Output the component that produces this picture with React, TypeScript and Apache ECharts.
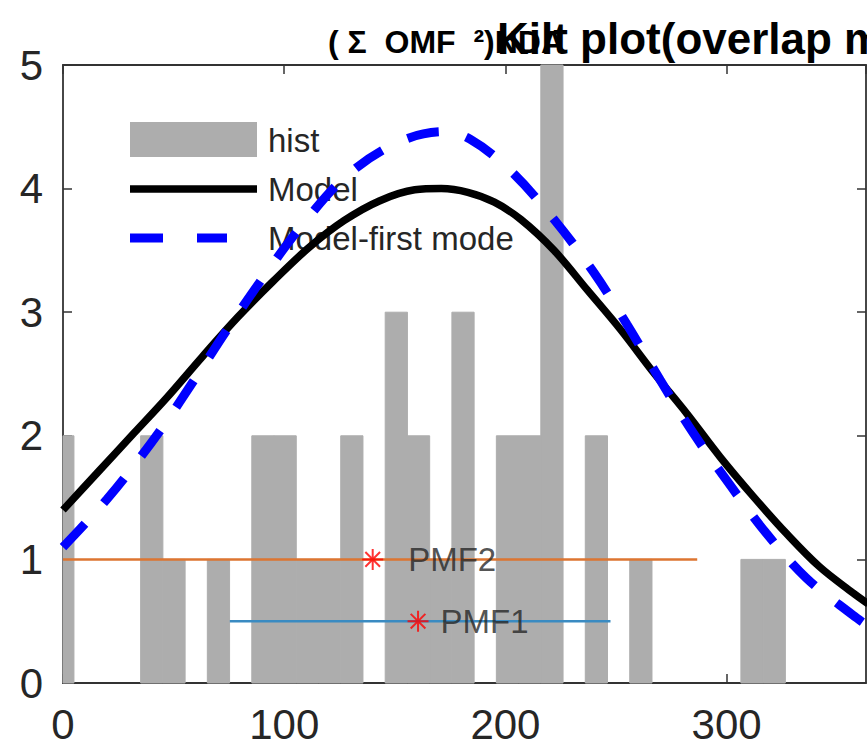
import React, { useEffect, useRef } from "react";
import * as echarts from "echarts";

// ---- data ----
const titleSub = "( Σ  OMF  ²)NDA";
const titleMain = "Kilt plot(overlap m";
const legendLabels = ["hist", "Model", "Model-first mode"];

const xAxisMin = 0;
const xAxisMax = 363;
const xTickStep = 100;
const yAxisMin = 0;
const yAxisMax = 5;
const yTickStep = 1;

const histBinStart = -5.1;
const histBinWidth = 10.05;
const histCounts = [
  2, 0, 0, 0, 2, 1, 0, 1, 0, 2, 2, 1, 1, 2, 0, 3, 2, 1, 3, 0, 2, 2, 5, 0, 2, 0, 1, 0, 0, 0, 0, 1, 1, 0, 0, 0,
];

const modelX = [0, 16, 32, 47, 63, 79, 95, 111, 127, 143, 159, 171, 183, 195, 207, 222, 237, 252, 267, 282, 297, 312, 327, 342, 357, 364];
const modelY = [1.4, 1.71, 2.02, 2.31, 2.64, 2.96, 3.25, 3.52, 3.74, 3.9, 3.99, 4.0, 3.97, 3.89, 3.75, 3.5, 3.18, 2.86, 2.51, 2.18, 1.83, 1.51, 1.21, 0.94, 0.73, 0.64];

const firstModeX = [0, 10, 20, 30, 45, 60, 75, 92, 107, 128, 151, 172, 184, 202, 222, 240, 255, 270, 285, 302, 318, 336, 357, 364];
const firstModeY = [1.1, 1.29, 1.49, 1.71, 2.07, 2.47, 2.88, 3.32, 3.68, 4.1, 4.37, 4.46, 4.4, 4.15, 3.75, 3.32, 2.9, 2.45, 2.02, 1.59, 1.21, 0.85, 0.55, 0.46];

const pmfNames = ["PMF2", "PMF1"];
const pmfLevels = [1, 0.5];
const pmfStarts = [0, 75.4];
const pmfEnds = [286.7, 247.5];
const pmfMarks = [140, 160.5];

const FONT = "'Liberation Sans', Arial, Helvetica, sans-serif";
const TEXT = "#262626";
const AXIS = "#333333";
const HIST = "#ADADAD";

export default function App() {
  const ref = useRef<HTMLDivElement>(null);

  useEffect(() => {
    if (!ref.current) return;
    const chart = echarts.init(ref.current, undefined, { renderer: "svg" });

    const histData = histCounts.map((c, i) => [
      histBinStart + i * histBinWidth,
      histBinStart + (i + 1) * histBinWidth,
      c,
    ]);
    const modelData = modelX.map((x, i) => [x, modelY[i]]);
    const firstModeData = firstModeX.map((x, i) => [x, firstModeY[i]]);

    const xFormatter = (v: number) => (Math.abs(v % xTickStep) < 1e-9 ? String(v) : "");

    const baseX = {
      type: "value",
      min: xAxisMin,
      max: xAxisMax,
      interval: xTickStep,
      splitLine: { show: false },
      axisLine: { show: true, onZero: false, lineStyle: { color: AXIS, width: 1.8 } },
      axisTick: { show: true, inside: true, length: 9, lineStyle: { color: AXIS, width: 1.5 } },
    };
    const baseY = {
      type: "value",
      min: yAxisMin,
      max: yAxisMax,
      interval: yTickStep,
      splitLine: { show: false },
      axisLine: { show: true, onZero: false, lineStyle: { color: AXIS, width: 1.8 } },
      axisTick: { show: true, inside: true, length: 9, lineStyle: { color: AXIS, width: 1.5 } },
    };

    const starPath = "path://M10,0L10,20M0,10L20,10M3,3L17,17M3,17L17,3";

    const pmfColors = ["#DD7531", "#3A8BC2"];
    const labelDist = [24, 11];

    const pmfLineSeries = pmfNames.map((n, i) => ({
      name: n + " range",
      type: "line",
      data: [
        [pmfStarts[i], pmfLevels[i]],
        [pmfEnds[i], pmfLevels[i]],
      ],
      showSymbol: false,
      lineStyle: { color: pmfColors[i], width: 2.5 },
      z: 4,
      silent: true,
    }));
    const pmfStarSeries = pmfNames.map((n, i) => ({
      name: n,
      type: "scatter",
      data: [[pmfMarks[i], pmfLevels[i]]],
      symbol: starPath,
      symbolSize: 21,
      itemStyle: { color: "rgba(0,0,0,0)", borderColor: "#FF0000", borderWidth: 2 },
      label: {
        show: true,
        position: "right",
        distance: labelDist[i],
        formatter: n,
        fontFamily: FONT,
        fontSize: 33,
        color: TEXT,
      },
      z: 6,
    }));

    const legendX = 130;
    const legendTextX = 268;
    const legendRows = [140, 189, 238];

    chart.setOption({
      animation: false,
      backgroundColor: "#ffffff",
      grid: { left: 63, right: 1, top: 65, bottom: 67, containLabel: false },
      title: [
        {
          text: titleSub,
          left: 328,
          top: 26,
          padding: 0,
          textStyle: { fontFamily: FONT, fontSize: 32, fontWeight: "bold", color: "#000", lineHeight: 32 },
        },
        {
          text: titleMain,
          left: 497,
          top: 16,
          padding: 0,
          textStyle: { fontFamily: FONT, fontSize: 44, fontWeight: "bold", color: "#000", lineHeight: 44 },
        },
      ],
      xAxis: [
        {
          ...baseX,
          position: "bottom",
          axisLabel: {
            show: true,
            margin: 20,
            fontFamily: FONT,
            fontSize: 42,
            color: TEXT,
            showMaxLabel: false,
            formatter: xFormatter,
          },
        },
        { ...baseX, position: "top", axisLabel: { show: false } },
      ],
      yAxis: [
        {
          ...baseY,
          position: "left",
          axisLabel: { show: true, margin: 20, fontFamily: FONT, fontSize: 42, color: TEXT },
        },
        { ...baseY, position: "right", axisLabel: { show: false } },
      ],
      series: [
        {
          name: legendLabels[0],
          type: "custom",
          data: histData,
          encode: { x: [0, 1], y: 2 },
          z: 1,
          renderItem: (params: any, api: any) => {
            const lo = api.value(0);
            const hi = api.value(1);
            const c = api.value(2);
            if (!c) return null;
            const p0 = api.coord([lo, c]);
            const p1 = api.coord([hi, 0]);
            const cs = params.coordSys;
            const rect = echarts.graphic.clipRectByRect(
              { x: p0[0], y: p0[1], width: p1[0] - p0[0], height: p1[1] - p0[1] },
              { x: cs.x, y: cs.y, width: cs.width, height: cs.height }
            );
            if (!rect) return null;
            return { type: "rect", shape: rect, style: { fill: HIST, stroke: HIST, lineWidth: 1 } };
          },
        },
        {
          name: legendLabels[1],
          type: "line",
          data: modelData,
          smooth: 0.35,
          showSymbol: false,
          lineStyle: { color: "#000000", width: 7.5 },
          z: 3,
        },
        {
          name: legendLabels[2],
          type: "line",
          data: firstModeData,
          smooth: 0.35,
          showSymbol: false,
          lineStyle: { color: "#0000FF", width: 9, type: [32, 28], cap: "butt" },
          z: 3,
        },
        ...pmfLineSeries,
        ...pmfStarSeries,
      ],
      graphic: [
        {
          type: "group",
          z: 100,
          children: [
            {
              type: "rect",
              shape: { x: legendX, y: legendRows[0] - 18, width: 127, height: 35 },
              style: { fill: HIST },
            },
            {
              type: "line",
              shape: { x1: legendX, y1: legendRows[1], x2: legendX + 127, y2: legendRows[1] },
              style: { stroke: "#000000", lineWidth: 7.5 },
            },
            {
              type: "line",
              shape: { x1: legendX, y1: legendRows[2], x2: legendX + 97, y2: legendRows[2] },
              style: { stroke: "#0000FF", lineWidth: 9, lineDash: [33, 34] },
            },
            ...legendLabels.map((t, i) => ({
              type: "text",
              x: legendTextX,
              y: legendRows[i],
              style: {
                text: t,
                fontFamily: FONT,
                fontSize: 33,
                fill: TEXT,
                verticalAlign: "middle",
                align: "left",
              },
            })),
          ],
        },
      ],
    });

    return () => chart.dispose();
  }, []);

  return (
    <div
      ref={ref}
      style={{ position: "fixed", left: 0, top: 0, width: 867, height: 750, background: "#fff" }}
    />
  );
}
